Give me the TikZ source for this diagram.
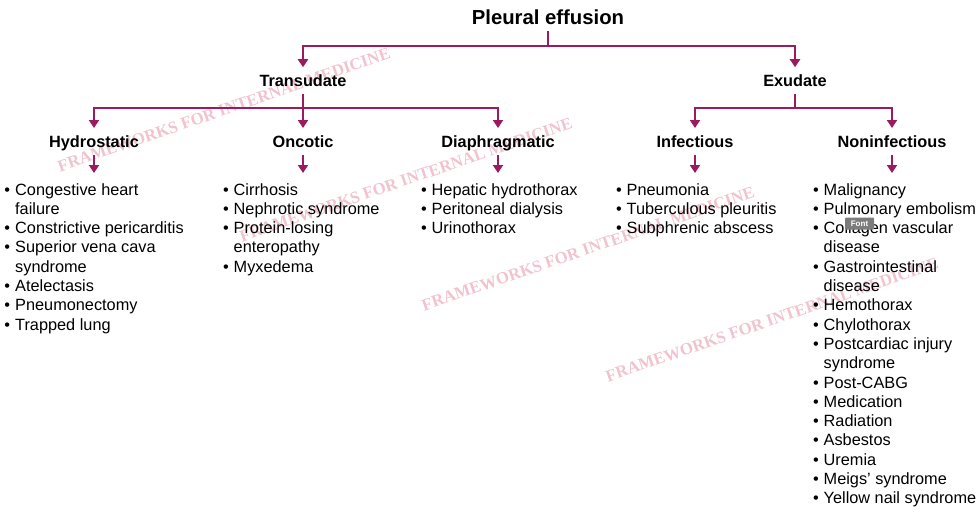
\documentclass[tikz,border=0pt]{standalone}
\usepackage{fontspec}
\setmainfont{Liberation Sans}
\newfontfamily\wmfont{Liberation Serif}
\usetikzlibrary{arrows.meta}
\definecolor{EffMaroon}{HTML}{9B1B5E}
\definecolor{WmPink}{HTML}{F0C3CF}
\definecolor{TipGray}{HTML}{7C7C7C}

\tikzset{
  arr/.style={-{Triangle[length=8pt,width=10pt]},line width=2pt,EffMaroon},
  title/.style={font=\fontsize{20.3}{24}\selectfont\bfseries,inner sep=0pt,outer sep=7pt,
    text height=15pt,text depth=0pt,anchor=base},
  head/.style={font=\fontsize{16.3}{19.3}\selectfont\bfseries,inner sep=0pt,outer sep=7.5pt,
    text height=12pt,text depth=0pt,anchor=base},
  lst/.style={font=\fontsize{16.3}{19.3}\selectfont,inner sep=0pt,outer sep=0pt,anchor=north west},
  wm/.style={font=\wmfont\bfseries\fontsize{16.8}{18}\selectfont,text=WmPink,rotate=19},
  tolist/.style={arr,shorten >=8.5pt}
}
\newcommand{\itm}{\textbullet &}

\begin{document}
\begin{tikzpicture}[x=1pt,y=-1pt]
  \useasboundingbox (0,0) rectangle (980,515);

  % watermark
  \foreach \wx/\wy in {224/110,406/180,588/249,772/320}
    \node[wm] at (\wx,\wy) {FRAMEWORKS FOR INTERNAL MEDICINE};

  % levels of the tree
  \coordinate (bar1) at (0,45.5);
  \coordinate (bar2) at (0,107.5);

  \node[title] (root) at (548,24) {Pleural effusion};
  \node[head] (trans) at (303,86.7) {Transudate};
  \node[head] (exud) at (795,86.7) {Exudate};

  \node[head] (hydro) at (94,147.5) {Hydrostatic};
  \node[head] (onco) at (303,147.5) {Oncotic};
  \node[head] (diaph) at (498,147.5) {Diaphragmatic};
  \node[head] (infec) at (695,147.5) {Infectious};
  \node[head] (noninf) at (892,147.5) {Noninfectious};

  \node[lst] (hydrolist) at (4.5,181.5) {\begin{tabular}[t]{@{}l@{\hspace{5pt}}l@{}}
    \itm Congestive heart\\
    & failure\\
    \itm Constrictive pericarditis\\
    \itm Superior vena cava\\
    & syndrome\\
    \itm Atelectasis\\
    \itm Pneumonectomy\\
    \itm Trapped lung
  \end{tabular}};
  \node[lst] (oncolist) at (223,181.5) {\begin{tabular}[t]{@{}l@{\hspace{5pt}}l@{}}
    \itm Cirrhosis\\
    \itm Nephrotic syndrome\\
    \itm Protein-losing\\
    & enteropathy\\
    \itm Myxedema
  \end{tabular}};
  \node[lst] (diaphlist) at (421,181.5) {\begin{tabular}[t]{@{}l@{\hspace{5pt}}l@{}}
    \itm Hepatic hydrothorax\\
    \itm Peritoneal dialysis\\
    \itm Urinothorax
  \end{tabular}};
  \node[lst] (infeclist) at (616,181.5) {\begin{tabular}[t]{@{}l@{\hspace{5pt}}l@{}}
    \itm Pneumonia\\
    \itm Tuberculous pleuritis\\
    \itm Subphrenic abscess
  \end{tabular}};
  \node[lst] (noninflist) at (813,181.5) {\begin{tabular}[t]{@{}l@{\hspace{5pt}}l@{}}
    \itm Malignancy\\
    \itm Pulmonary embolism\\
    \itm Collagen vascular\\
    & disease\\
    \itm Gastrointestinal\\
    & disease\\
    \itm Hemothorax\\
    \itm Chylothorax\\
    \itm Postcardiac injury\\
    & syndrome\\
    \itm Post-CABG\\
    \itm Medication\\
    \itm Radiation\\
    \itm Asbestos\\
    \itm Uremia\\
    \itm Meigs’ syndrome\\
    \itm Yellow nail syndrome
  \end{tabular}};

  % connectors
  \draw[arr] (root.south) -- (root.south |- bar1) -| (trans.north);
  \draw[arr] (root.south) -- (root.south |- bar1) -| (exud.north);

  \draw[arr] (trans.south) -- (trans.south |- bar2) -| (hydro.north);
  \draw[arr] (trans.south) -- (onco.north);
  \draw[arr] (trans.south) -- (trans.south |- bar2) -| (diaph.north);
  \draw[arr] (exud.south) -- (exud.south |- bar2) -| (infec.north);
  \draw[arr] (exud.south) -- (exud.south |- bar2) -| (noninf.north);

  \foreach \h in {hydro,onco,diaph,infec,noninf}
    \draw[tolist] (\h.south) -- (\h.south |- \h list.north);

  % screen tooltip
  \node[fill=TipGray,text=white,rounded corners=1pt,font=\fontsize{8}{9}\selectfont\bfseries,
    inner sep=0pt,minimum width=29pt,minimum height=12pt] (fonttip) at (859.5,223.5) {Font};
\end{tikzpicture}
\end{document}
